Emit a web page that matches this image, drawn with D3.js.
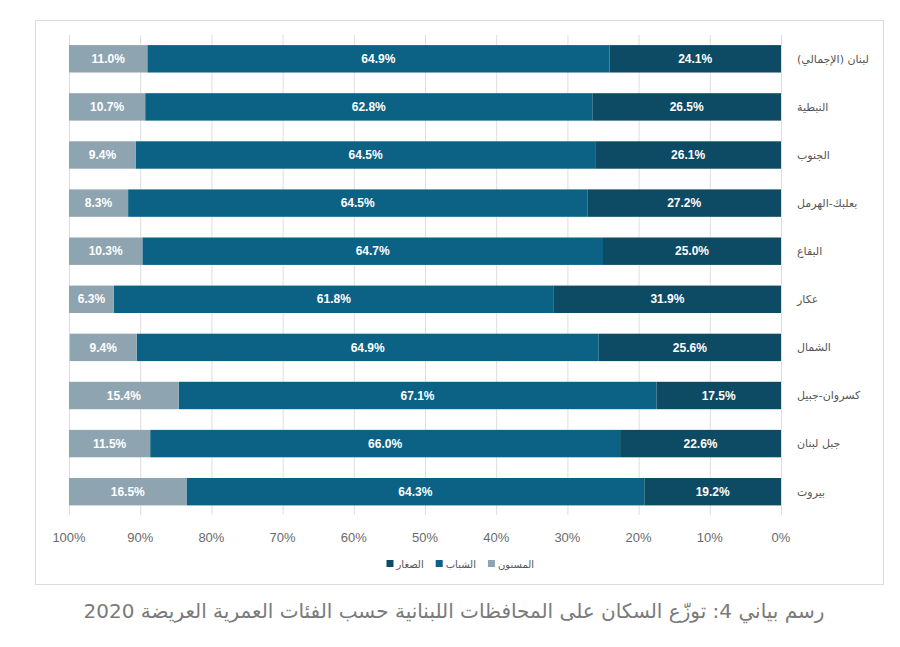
<!DOCTYPE html>
<html>
<head>
<meta charset="utf-8">
<script src="https://cdn.jsdelivr.net/npm/d3@7"></script>
<style>
  body { margin: 0; background: #fff; }
  svg text { font-family: "Liberation Sans", Arial, sans-serif; }
</style>
</head>
<body>
<svg id="chart" width="900" height="647"></svg>
<script>
var regions = ['لبنان (الإجمالي)', 'النبطية', 'الجنوب', 'بعلبك-الهرمل', 'البقاع', 'عكار', 'الشمال', 'كسروان-جبيل', 'جبل لبنان', 'بيروت'];
var children = [24.1, 26.5, 26.1, 27.2, 25.0, 31.9, 25.6, 17.5, 22.6, 19.2];
var youth = [64.9, 62.8, 64.5, 64.5, 64.7, 61.8, 64.9, 67.1, 66.0, 64.3];
var elderly = [11.0, 10.7, 9.4, 8.3, 10.3, 6.3, 9.4, 15.4, 11.5, 16.5];
var seriesNames = ['الصغار', 'الشباب', 'المسنون'];
var colors = ['#0d4a63', '#0b6284', '#8fa4b1'];
var ticks = [0, 10, 20, 30, 40, 50, 60, 70, 80, 90, 100];
var title = 'رسم بياني 4: توزّع السكان على المحافظات اللبنانية حسب الفئات العمرية العريضة 2020';

var svg = d3.select('#chart');

// frame
svg.append('rect')
  .attr('x', 35.5).attr('y', 20.5)
  .attr('width', 848).attr('height', 564)
  .attr('fill', 'none')
  .attr('stroke', '#dcdcdc');

var x = d3.scaleLinear().domain([0, 100]).range([781, 69]);
var y = d3.scaleBand().domain(regions).range([35, 515.5]).paddingInner(0.43).paddingOuter(0.21);

// grid
svg.selectAll('.grid')
  .data(ticks).enter()
  .append('line')
  .attr('class', 'grid')
  .attr('x1', function(d){ return x(d) + 0.5; })
  .attr('x2', function(d){ return x(d) + 0.5; })
  .attr('y1', 35).attr('y2', 515)
  .attr('stroke', '#dedede');

// tick labels
svg.selectAll('.tick')
  .data(ticks).enter()
  .append('text')
  .attr('class', 'tick')
  .attr('x', function(d){ return x(d); })
  .attr('y', 537)
  .attr('dy', '0.35em')
  .attr('text-anchor', 'middle')
  .attr('font-size', 13)
  .attr('fill', '#6a6a6a')
  .text(function(d){ return d + '%'; });

var table = regions.map(function(r, i){
  return { region: r, 0: children[i], 1: youth[i], 2: elderly[i] };
});
var stack = d3.stack().keys([0, 1, 2]);
var layers = stack(table);

var g = svg.selectAll('.layer')
  .data(layers).enter()
  .append('g')
  .attr('class', 'layer')
  .attr('fill', function(d, i){ return colors[i]; });

g.selectAll('rect')
  .data(function(d){ return d; }).enter()
  .append('rect')
  .attr('x', function(d){ return x(Math.min(d[1], 100)); })
  .attr('width', function(d){ return x(d[0]) - x(Math.min(d[1], 100)); })
  .attr('y', function(d){ return y(d.data.region); })
  .attr('height', y.bandwidth());

g.selectAll('.val')
  .data(function(d){ return d; }).enter()
  .append('text')
  .attr('class', 'val')
  .attr('x', function(d){ return (x(d[0]) + x(Math.min(d[1], 100))) / 2; })
  .attr('y', function(d){ return y(d.data.region) + y.bandwidth() / 2; })
  .attr('dy', '0.35em')
  .attr('text-anchor', 'middle')
  .attr('font-size', 12)
  .attr('font-weight', 'bold')
  .attr('fill', '#fff')
  .text(function(d){ return (d[1] - d[0]).toFixed(1) + '%'; });

// category labels
svg.selectAll('.cat')
  .data(regions).enter()
  .append('text')
  .attr('class', 'cat')
  .attr('x', 797)
  .attr('y', function(d){ return y(d) + y.bandwidth() / 2; })
  .attr('dy', '0.35em')
  .attr('font-size', 11)
  .attr('fill', '#555')
  .style('font-family', '"DejaVu Sans", sans-serif')
  .text(function(d){ return d; });

// legend, laid out right to left
var lx = 534;
[2, 1, 0].forEach(function(i){
  var t = svg.append('text')
    .attr('y', 564)
    .attr('dy', '0.35em')
    .attr('font-size', 10)
    .attr('fill', '#555')
    .style('font-family', '"DejaVu Sans", sans-serif')
    .text(seriesNames[i]);
  var w = t.node().getComputedTextLength();
  t.attr('x', lx - w);
  svg.append('rect')
    .attr('x', lx - w - 10).attr('y', 560)
    .attr('width', 7).attr('height', 7)
    .attr('fill', colors[i]);
  lx = lx - w - 22;
});

// title
svg.append('text')
  .attr('x', 454)
  .attr('y', 611)
  .attr('dy', '0.35em')
  .attr('text-anchor', 'middle')
  .attr('font-size', 20)
  .attr('fill', '#7a7a7a')
  .style('font-family', '"DejaVu Sans", sans-serif')
  .text(title);
</script>
</body>
</html>
